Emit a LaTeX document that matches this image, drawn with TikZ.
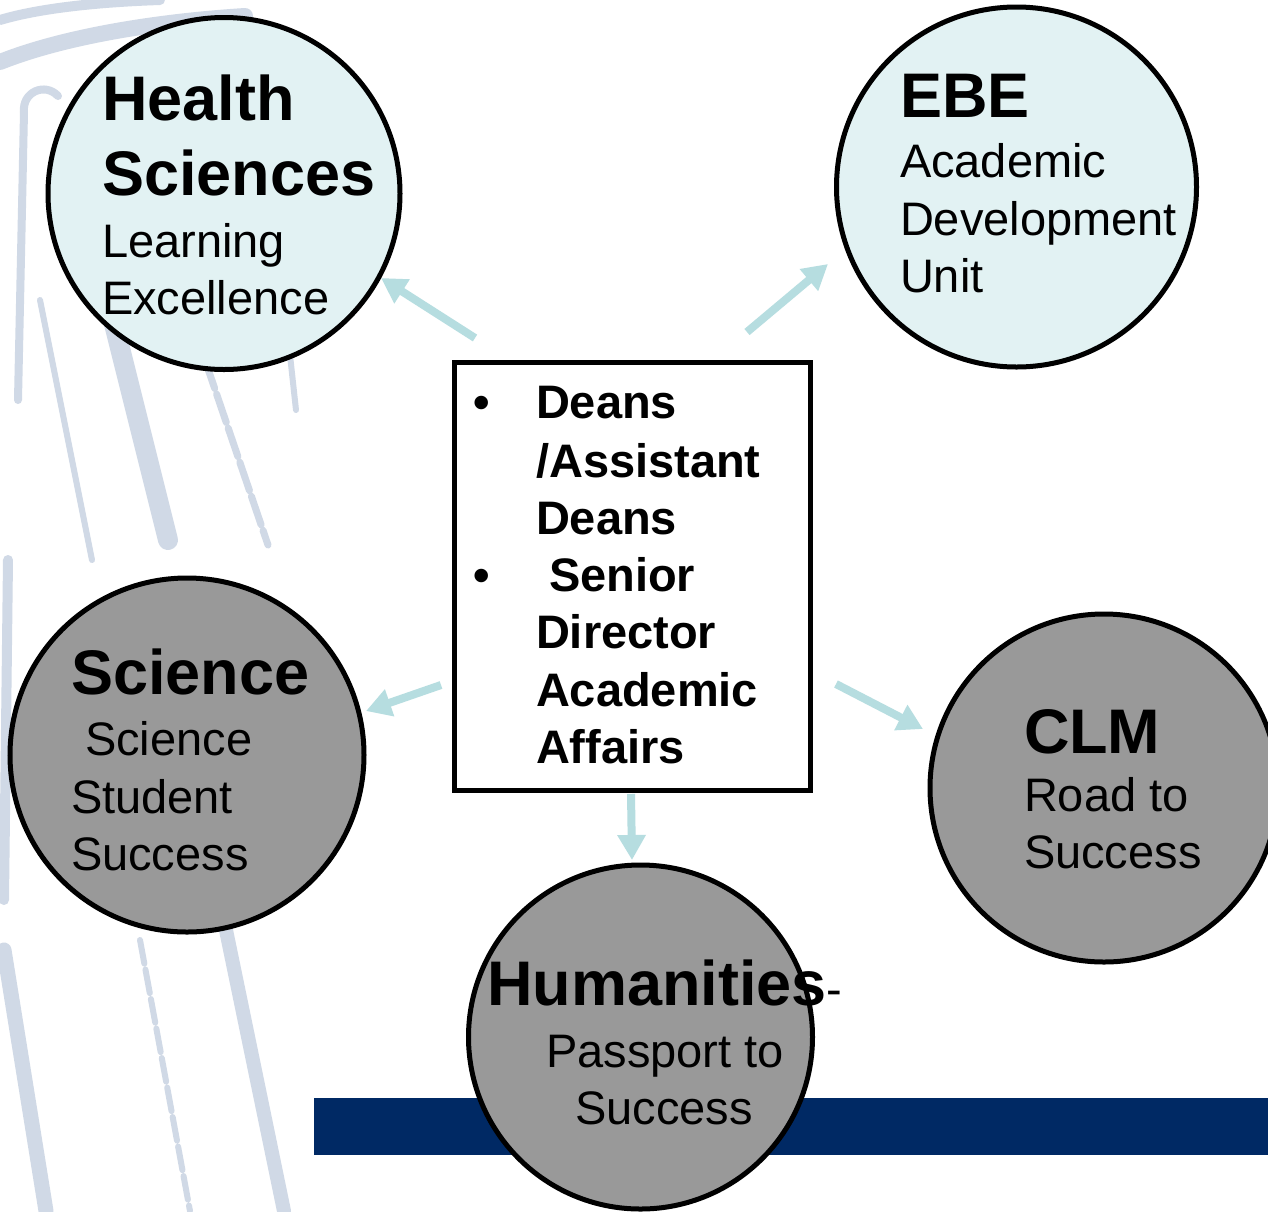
\documentclass[tikz,border=0pt]{standalone}
\usepackage{fontspec}
\setmainfont{Liberation Sans}
\usetikzlibrary{arrows.meta}
\definecolor{cyanfill}{RGB}{226,242,243}
\definecolor{grayfill}{RGB}{153,153,153}
\definecolor{arrowcol}{RGB}{182,221,224}
\definecolor{navyband}{RGB}{0,41,100}
\definecolor{pillar}{RGB}{208,217,230}
\begin{document}
\begin{tikzpicture}[x=1pt,y=-1pt,
  unit/.style={circle, draw=black, line width=5pt, inner sep=0pt},
  lightunit/.style={unit, fill=cyanfill},
  grayunit/.style={unit, fill=grayfill},
  txt/.style={anchor=base west, inner sep=0pt, outer sep=0pt},
  titletxt/.style={txt, font=\fontsize{63}{63}\selectfont\bfseries},
  bodytxt/.style={txt, font=\fontsize{47}{47}\selectfont},
  boxtxt/.style={txt, font=\fontsize{47}{47}\selectfont\bfseries},
  link/.style={draw=arrowcol, line width=8pt, -{Triangle[length=25pt,width=27pt]}},
  pil/.style={draw=pillar, line cap=round},
]
\useasboundingbox (0,0) rectangle (1268,1211);
\clip (0,0) rectangle (1268,1211);
\fill[white] (0,0) rectangle (1268,1211);

% background pillar sketch
\draw[pil, line width=16pt] (0,62) .. controls (60,38) and (150,22) .. (245,16);
\draw[pil, line width=10pt] (0,20) .. controls (40,8) and (100,2) .. (160,0);
\draw[pil, line width=8pt] (58,96) .. controls (45,82) and (22,92) .. (24,112);
\draw[pil, line width=8pt] (24,112) -- (18,400);
\draw[pil, line width=6pt] (40,300) -- (92,560);
\draw[pil, line width=20pt] (108,300) -- (168,540);
\draw[pil, line width=7pt, dash pattern=on 30pt off 6pt] (205,360) -- (268,545);
\draw[pil, line width=6pt] (290,355) -- (296,410);
\draw[pil, line width=10pt] (8,560) -- (4,900);
\draw[pil, line width=15pt] (4,950) -- (46,1211);
\draw[pil, line width=6pt, dash pattern=on 24pt off 6pt] (140,940) -- (190,1211);
\draw[pil, line width=14pt] (226,930) -- (284,1211);

% navy band
\fill[navyband] (314,1098) rectangle (1268,1155);

% circles
\node[lightunit, minimum size=352pt] (hs) at (224,193.5) {};
\node[lightunit, minimum size=360pt] (ebe) at (1016.5,187) {};
\node[grayunit, minimum size=354pt] (sci) at (187,755) {};
\node[grayunit, minimum size=348pt] (clm) at (1104,788) {};
\node[grayunit, minimum size=344pt] (hum) at (640.5,1037) {};

% central box
\node[draw=black, line width=5pt, fill=white, minimum width=356pt, minimum height=428pt, inner sep=0pt] (box) at (632,576) {};

% connectors
\coordinate (a1s) at (475,338); \coordinate (a1e) at (381,278);
\coordinate (a2s) at (747,332); \coordinate (a2e) at (828,264);
\coordinate (a3s) at (441,685); \coordinate (a3e) at (366,711);
\coordinate (a4s) at (836,684); \coordinate (a4e) at (923,729);
\coordinate (a5s) at (631,794); \coordinate (a5e) at (632,860);
\draw[link] (a1s) -- (a1e);
\draw[link] (a2s) -- (a2e);
\draw[link] (a3s) -- (a3e);
\draw[link] (a4s) -- (a4e);
\draw[link] (a5s) -- (a5e);

% Health Sciences
\node[titletxt] (hs1) at (102,120) {Health};
\node[titletxt] (hs2) at (102,195) {Sciences};
\node[bodytxt] (hs3) at (102,257) {Learning};
\node[bodytxt] (hs4) at (102,314) {Excellence};

% EBE
\node[titletxt] (ebe1) at (900,117) {EBE};
\node[bodytxt] (ebe2) at (900,177) {Academic};
\node[bodytxt] (ebe3) at (900,235) {Development};
\node[bodytxt] (ebe4) at (900,292) {Unit};

% Science
\node[titletxt] (sci1) at (71,694) {Science};
\node[bodytxt] (sci2) at (85,755) {Science};
\node[bodytxt] (sci3) at (71,813) {Student};
\node[bodytxt] (sci4) at (71,870) {Success};

% CLM
\node[titletxt] (clm1) at (1024,753) {CLM};
\node[bodytxt] (clm2) at (1024,811) {Road to};
\node[bodytxt] (clm3) at (1024,868) {Success};

% Humanities
\node[anchor=base, inner sep=0pt, font=\fontsize{47}{47}\selectfont] (hum1) at (665,1005) {{\fontsize{63}{63}\selectfont\bfseries Humanities}-};
\node[anchor=base, inner sep=0pt, font=\fontsize{47}{47}\selectfont] (hum2) at (665,1067) {Passport to};
\node[anchor=base, inner sep=0pt, font=\fontsize{47}{47}\selectfont] (hum3) at (664,1124) {Success};

% box text
\node[boxtxt] (bul1) at (473,418) {•};
\node[boxtxt] (bx1) at (536,418) {Deans};
\node[boxtxt] (bx2) at (536,477) {/Assistant};
\node[boxtxt] (bx3) at (536,534) {Deans};
\node[boxtxt] (bul2) at (473,591) {•};
\node[boxtxt] (bx4) at (549,591) {Senior};
\node[boxtxt] (bx5) at (536,648) {Director};
\node[boxtxt] (bx6) at (536,706) {Academic};
\node[boxtxt] (bx7) at (536,763) {Affairs};
\end{tikzpicture}
\end{document}
